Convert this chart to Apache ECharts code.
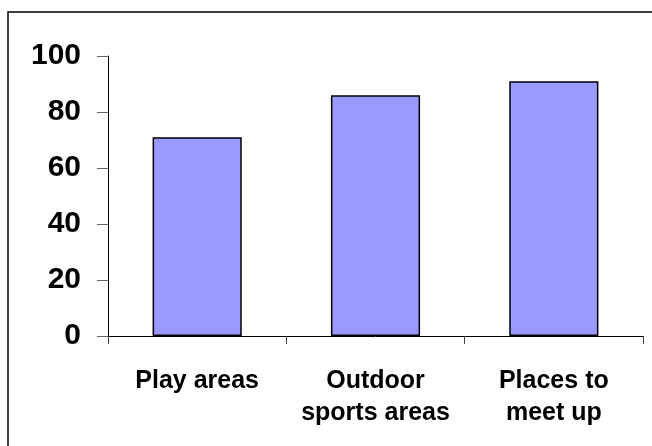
<!DOCTYPE html>
<html>
<head>
<meta charset="utf-8">
<script src="https://cdn.jsdelivr.net/npm/echarts@6/dist/echarts.min.js"></script>
<style>
  html, body { margin: 0; padding: 0; background: #fff; }
  #chart { width: 652px; height: 446px; }
</style>
</head>
<body>
<div id="chart"></div>
<script>
// chart data
const categories = ['Play areas', 'Outdoor\nsports areas', 'Places to\nmeet up'];
const values = [71, 86, 91];
const yTicks = [0, 20, 40, 60, 80, 100];

const chart = echarts.init(document.getElementById('chart'));

chart.setOption({
  animation: false,
  textStyle: { fontFamily: '"Liberation Sans", Arial, sans-serif' },
  grid: { left: 108, right: 9, top: 56, bottom: 110 },
  graphic: [
    {
      // outer frame (only top/left visible in the picture)
      type: 'rect',
      shape: { x: 8, y: 12, width: 700, height: 500 },
      style: { fill: 'none', stroke: '#000', lineWidth: 1.5 }
    }
  ],
  xAxis: {
    type: 'category',
    data: categories,
    axisLine: { lineStyle: { color: '#000', width: 1 } },
    axisTick: { show: true, alignWithLabel: false, length: 8, lineStyle: { color: '#444' } },
    axisLabel: {
      color: '#000',
      fontWeight: 'bold',
      fontSize: 25,
      lineHeight: 32,
      margin: 29,
      interval: 0
    }
  },
  yAxis: {
    type: 'value',
    min: yTicks[0],
    max: yTicks[yTicks.length - 1],
    interval: 20,
    axisLine: { show: true, lineStyle: { color: '#000', width: 1 } },
    axisTick: { show: true, length: 11, lineStyle: { color: '#666' } },
    splitLine: { show: false },
    axisLabel: {
      color: '#000',
      fontWeight: 'bold',
      fontSize: 30,
      margin: 27
    }
  },
  series: [
    {
      type: 'bar',
      data: values,
      barWidth: '50%',
      itemStyle: { color: '#9999ff', borderColor: '#000', borderWidth: 1.5 }
    }
  ]
});
</script>
</body>
</html>
